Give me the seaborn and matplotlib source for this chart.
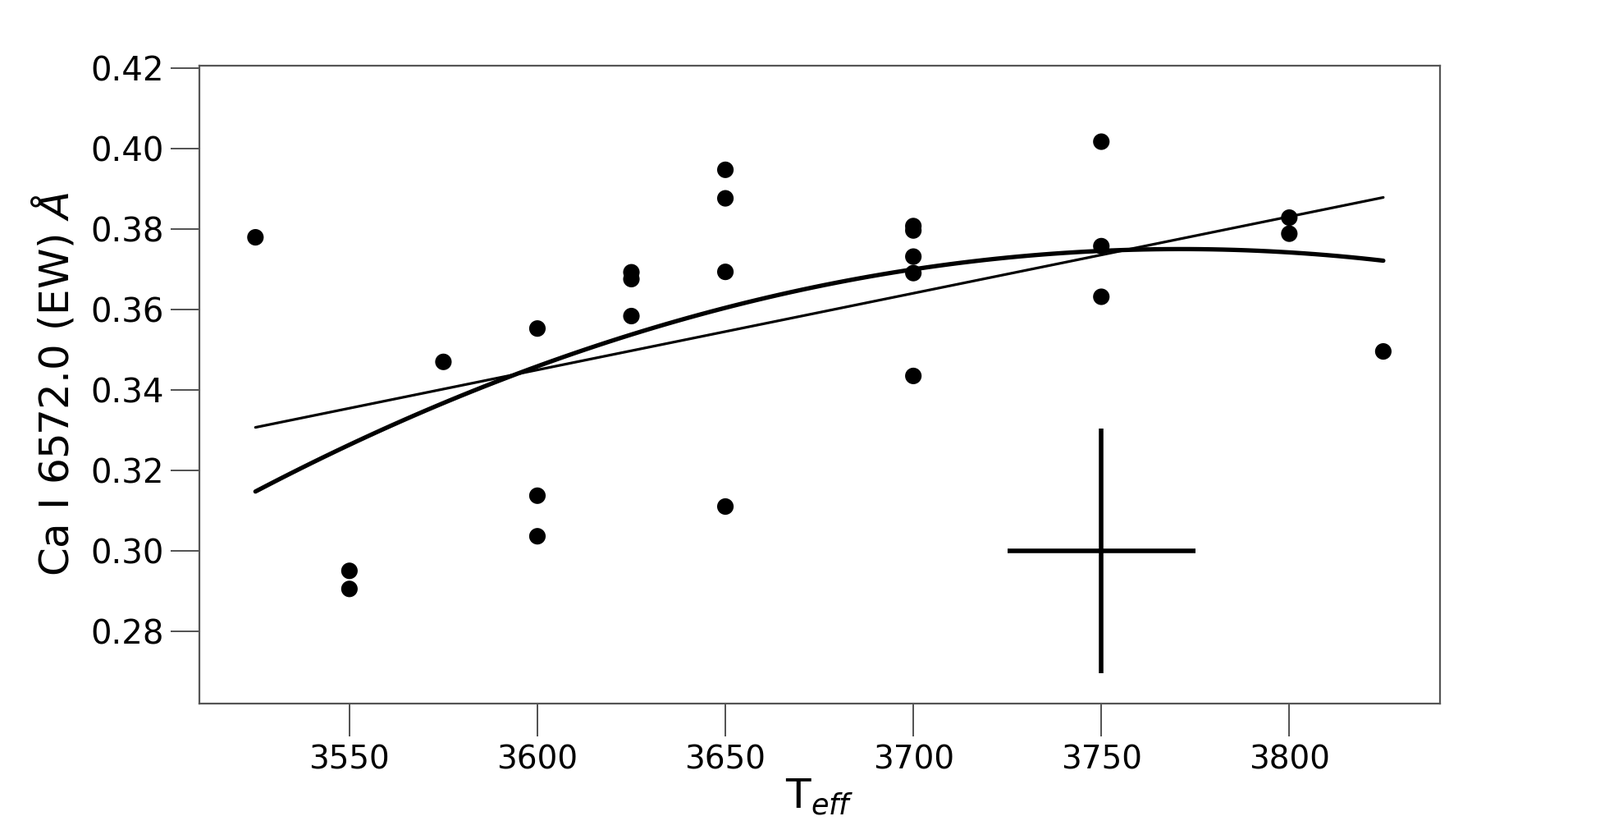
import numpy as np
import pandas as pd
import matplotlib
matplotlib.use("Agg")
import matplotlib.pyplot as plt
import seaborn as sns

# Teff and Ca I 6572.0 equivalent widths
teff = [3525, 3550, 3550, 3575, 3600, 3600, 3600, 3625, 3625, 3625,
        3650, 3650, 3650, 3650, 3700, 3700, 3700, 3700, 3700,
        3750, 3750, 3750, 3800, 3800, 3825]
ew = [0.378, 0.295, 0.2905, 0.347, 0.3553, 0.3137, 0.3036, 0.3693, 0.3676, 0.3584,
      0.3948, 0.3877, 0.3694, 0.3110, 0.3808, 0.3797, 0.3732, 0.3691, 0.3435,
      0.4018, 0.3758, 0.3632, 0.3829, 0.3789, 0.3496]

# typical error bar
err_teff = [3750]
err_ew = [0.30]
err_x = [25]
err_y = [0.0305]

xticks = [3550, 3600, 3650, 3700, 3750, 3800]
yticks = [0.28, 0.30, 0.32, 0.34, 0.36, 0.38, 0.40, 0.42]


def main():
    df = pd.DataFrame({"teff": teff, "ew": ew})

    sns.set_style("white")
    plt.rcParams["font.family"] = ["DejaVu Sans"]
    plt.rcParams["mathtext.fontset"] = "dejavusans"
    plt.rcParams["text.color"] = "black"
    plt.rcParams["axes.labelcolor"] = "black"
    plt.rcParams["xtick.color"] = "black"
    plt.rcParams["ytick.color"] = "black"

    fig = plt.figure(figsize=(19.5, 10.11), dpi=100)
    ax = fig.add_axes([0.1244, 0.1525, 0.8998 - 0.1244, 0.9213 - 0.1525])

    sns.scatterplot(data=df, x="teff", y="ew", color="black", s=210,
                    edgecolor="none", ax=ax, zorder=3)
    sns.regplot(data=df, x="teff", y="ew", order=1, ci=None, scatter=False,
                color="black", line_kws={"linewidth": 2.3}, ax=ax)
    sns.regplot(data=df, x="teff", y="ew", order=2, ci=None, scatter=False,
                color="black", line_kws={"linewidth": 3.8}, ax=ax)

    ax.errorbar(err_teff, err_ew, xerr=err_x, yerr=err_y, fmt="none",
                ecolor="black", elinewidth=4, capsize=0)

    ax.set_xlim(3510, 3840)
    ax.set_ylim(0.262, 0.4208)
    ax.set_xticks(xticks)
    ax.set_yticks(yticks)
    ax.set_yticklabels([f"{v:.2f}" for v in yticks])

    ax.tick_params(axis="both", which="both", direction="out",
                   color="#333333", labelcolor="black", width=1.2,
                   top=False, right=False, left=True, bottom=True)
    ax.tick_params(axis="y", length=25, pad=6, labelsize=29)
    ax.tick_params(axis="x", length=29, pad=6.5, labelsize=28)

    for sp in ax.spines.values():
        sp.set_color("#555555")
        sp.set_linewidth(1.6)

    ax.set_xlabel(r"T$_{eff}$", fontsize=36, labelpad=2, color="black")
    ax.set_ylabel(r"Ca I 6572.0 (EW) $Å$", fontsize=36, labelpad=12,
                  color="black")

    fig.savefig("out.png", dpi=100, facecolor="white")
    plt.close(fig)


if __name__ == "__main__":
    main()
